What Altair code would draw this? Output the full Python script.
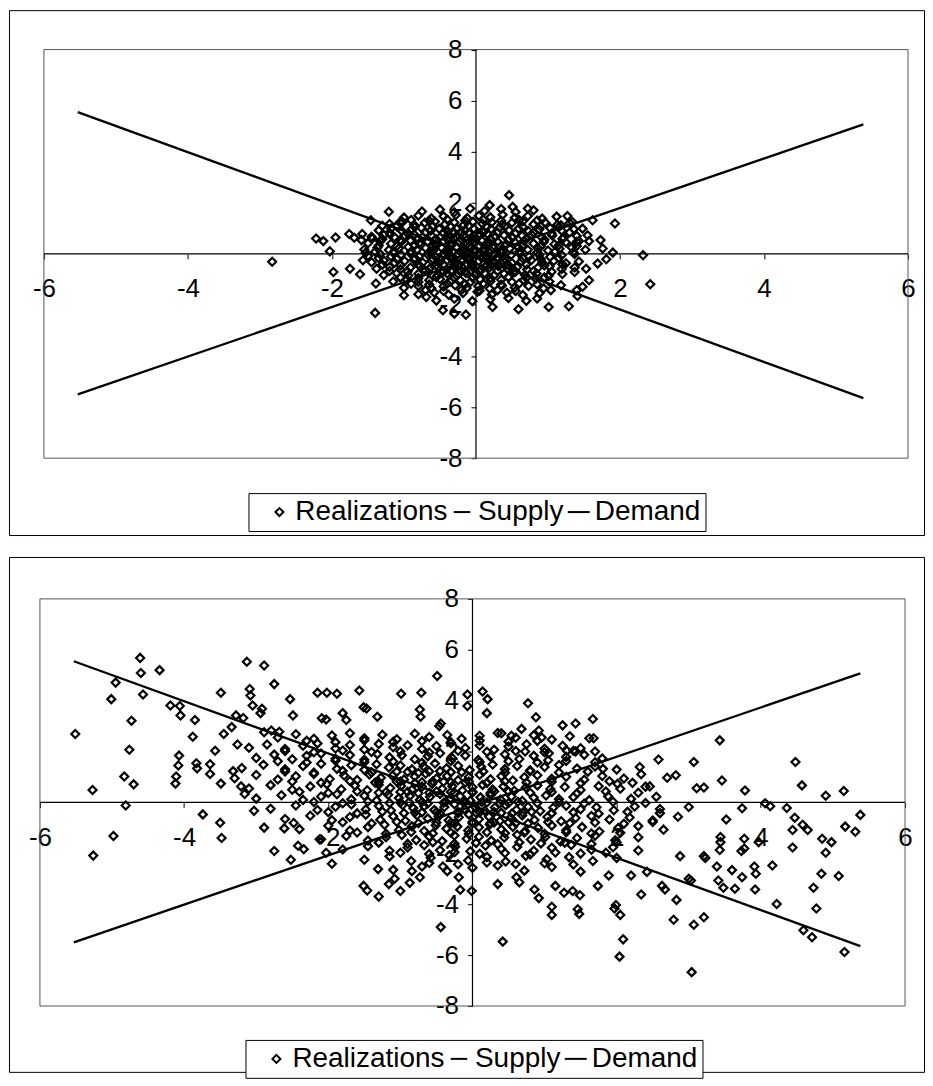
import altair as alt
import pandas as pd

# ---------------- data ----------------
series_names = ["Realizations", "Supply", "Demand"]
x_ticks = [-6, -4, -2, 2, 4, 6]
y_ticks = [-8, -6, -4, -2, 2, 4, 6, 8]
x_extent = [-6, 6]
y_extent = [-8, 8]

supply_x = [-5.53, 5.38]
supply_y = [-5.50, 5.07]
demand_x = [-5.53, 5.38]
demand_y = [5.55, -5.65]

top_core = [
    (-0.75,1.66),(-0.5,1.74),(-0.3,1.63),(-0.08,1.78),(0.12,1.68),(0.35,1.76),(0.55,1.64),(0.8,1.71),
    (-1.0,1.42),(-0.8,1.5),(-0.62,1.39),(-0.45,1.47),(-0.28,1.52),(-0.12,1.4),(0.04,1.49),(0.2,1.43),(0.37,1.53),(0.54,1.41),(0.72,1.48),(0.92,1.38),(1.12,1.46),
    (-1.2,1.17),(-1.02,1.25),(-0.86,1.14),(-0.71,1.22),(-0.57,1.27),(-0.43,1.16),(-0.3,1.23),(-0.17,1.13),(-0.04,1.26),(0.09,1.18),(0.22,1.24),(0.36,1.15),(0.5,1.22),(0.65,1.28),(0.8,1.16),(0.96,1.23),(1.13,1.14),(1.3,1.21),
    (-1.35,0.92),(-1.18,0.99),(-1.03,0.9),(-0.89,0.97),(-0.76,1.02),(-0.63,0.91),(-0.51,0.98),(-0.39,0.88),(-0.27,1.0),(-0.15,0.93),(-0.03,0.99),(0.09,0.9),(0.21,0.97),(0.33,1.03),(0.46,0.92),(0.59,0.98),(0.73,0.89),(0.88,0.96),(1.03,1.01),(1.19,0.91),(1.36,0.97),
    (-1.45,0.67),(-1.28,0.74),(-1.13,0.65),(-0.99,0.72),(-0.86,0.77),(-0.74,0.66),(-0.62,0.73),(-0.5,0.64),(-0.39,0.75),(-0.28,0.68),(-0.17,0.74),(-0.06,0.65),(0.05,0.72),(0.16,0.78),(0.27,0.67),(0.39,0.73),(0.51,0.64),(0.64,0.71),(0.77,0.76),(0.91,0.66),(1.06,0.72),(1.22,0.63),(1.4,0.7),
    (-1.5,0.42),(-1.33,0.49),(-1.18,0.4),(-1.04,0.47),(-0.91,0.52),(-0.79,0.41),(-0.67,0.48),(-0.56,0.39),(-0.45,0.5),(-0.34,0.43),(-0.23,0.49),(-0.12,0.4),(-0.02,0.47),(0.08,0.53),(0.19,0.42),(0.3,0.48),(0.42,0.39),(0.54,0.46),(0.67,0.51),(0.8,0.41),(0.94,0.47),(1.09,0.38),(1.25,0.45),(1.43,0.5),
    (-1.55,0.17),(-1.37,0.24),(-1.21,0.15),(-1.07,0.22),(-0.94,0.27),(-0.82,0.16),(-0.7,0.23),(-0.59,0.14),(-0.48,0.25),(-0.37,0.18),(-0.27,0.24),(-0.17,0.15),(-0.07,0.22),(0.03,0.28),(0.13,0.17),(0.24,0.23),(0.35,0.14),(0.47,0.21),(0.59,0.26),(0.72,0.16),(0.86,0.22),(1.0,0.13),(1.16,0.2),(1.33,0.25),(1.52,0.16),
    (-1.5,-0.08),(-1.33,-0.01),(-1.18,-0.1),(-1.04,-0.03),(-0.91,0.02),(-0.79,-0.09),(-0.67,-0.02),(-0.56,-0.11),(-0.45,0.0),(-0.35,-0.07),(-0.25,-0.01),(-0.15,-0.1),(-0.05,-0.03),(0.05,0.03),(0.15,-0.08),(0.26,-0.02),(0.37,-0.11),(0.49,-0.04),(0.61,0.01),(0.74,-0.09),(0.88,-0.03),(1.03,-0.12),(1.19,-0.05),(1.37,0.0),
    (-1.45,-0.33),(-1.28,-0.26),(-1.13,-0.35),(-0.99,-0.28),(-0.86,-0.23),(-0.74,-0.34),(-0.62,-0.27),(-0.51,-0.36),(-0.4,-0.25),(-0.29,-0.32),(-0.18,-0.26),(-0.07,-0.35),(0.04,-0.28),(0.15,-0.22),(0.26,-0.33),(0.38,-0.27),(0.5,-0.36),(0.63,-0.29),(0.77,-0.24),(0.92,-0.34),(1.08,-0.28),(1.25,-0.37),(1.43,-0.3),
    (-1.38,-0.58),(-1.2,-0.51),(-1.05,-0.6),(-0.91,-0.53),(-0.78,-0.48),(-0.65,-0.59),(-0.53,-0.52),(-0.41,-0.61),(-0.29,-0.5),(-0.17,-0.57),(-0.05,-0.51),(0.07,-0.6),(0.19,-0.53),(0.31,-0.47),(0.44,-0.58),(0.57,-0.52),(0.71,-0.61),(0.86,-0.54),(1.02,-0.49),(1.19,-0.59),(1.37,-0.53),
    (-1.28,-0.83),(-1.1,-0.76),(-0.94,-0.85),(-0.8,-0.78),(-0.66,-0.73),(-0.53,-0.84),(-0.4,-0.77),(-0.27,-0.86),(-0.14,-0.75),(-0.01,-0.82),(0.12,-0.76),(0.25,-0.85),(0.39,-0.78),(0.53,-0.72),(0.68,-0.83),(0.84,-0.77),(1.01,-0.86),(1.2,-0.79),
    (-1.15,-1.08),(-0.96,-1.01),(-0.8,-1.1),(-0.65,-1.03),(-0.5,-0.98),(-0.36,-1.09),(-0.22,-1.02),(-0.08,-1.11),(0.06,-1.0),(0.2,-1.07),(0.35,-1.01),(0.5,-1.1),(0.66,-1.03),(0.83,-0.97),(1.02,-1.08),
    (-1.0,-1.33),(-0.8,-1.26),(-0.62,-1.35),(-0.45,-1.28),(-0.29,-1.23),(-0.13,-1.34),(0.03,-1.27),(0.19,-1.36),(0.36,-1.25),(0.54,-1.32),(0.73,-1.26),(0.94,-1.35),
    (-0.8,-1.58),(-0.58,-1.51),(-0.38,-1.6),(-0.18,-1.53),(0.02,-1.48),(0.22,-1.59),(0.43,-1.52),(0.65,-1.61),(0.88,-1.54),
    (-0.55,-1.83),(-0.3,-1.76),(-0.05,-1.85),(0.2,-1.78),(0.45,-1.73),(0.7,-1.84),
    (-0.62,0.08),(-0.42,0.1),(-0.22,0.09),(-0.02,0.1),(0.18,0.08),(0.38,0.1),
    (-0.52,-0.18),(-0.32,-0.17),(-0.12,-0.19),(0.08,-0.16),(0.28,-0.18),
    (-0.55,0.33),(-0.35,0.32),(-0.15,0.34),(0.05,0.31),(0.25,0.33),
    (-0.45,-0.42),(-0.25,-0.43),(-0.05,-0.41),(0.15,-0.44),
    (-0.4,0.58),(-0.2,0.57),(0.0,0.59),(0.2,0.56),
    (-0.35,-0.67),(-0.15,-0.68),(0.05,-0.66),
    (-0.3,0.83),(-0.1,0.82),(0.1,0.84),
]

top_core_fill = [
    (-0.9,1.33),(-0.65,1.3),(-0.4,1.35),(-0.15,1.31),(0.1,1.34),(0.35,1.3),(0.6,1.33),(0.85,1.31),
    (-1.1,1.08),(-0.85,1.05),(-0.6,1.09),(-0.35,1.06),(-0.1,1.08),(0.15,1.05),(0.4,1.09),(0.65,1.06),(0.9,1.08),(1.15,1.05),
    (-1.2,0.83),(-0.95,0.8),(-0.7,0.84),(-0.45,0.81),(-0.2,0.83),(0.05,0.8),(0.3,0.84),(0.55,0.81),(0.8,0.83),(1.05,0.8),(1.3,0.84),
    (-1.3,0.58),(-1.05,0.55),(-0.8,0.59),(-0.55,0.56),(-0.3,0.58),(-0.05,0.55),(0.2,0.59),(0.45,0.56),(0.7,0.58),(0.95,0.55),(1.2,0.59),
    (-1.35,0.33),(-1.1,0.3),(-0.85,0.34),(-0.6,0.31),(-0.35,0.33),(-0.1,0.3),(0.15,0.34),(0.4,0.31),(0.65,0.33),(0.9,0.3),(1.15,0.34),(1.4,0.31),
    (-1.4,0.08),(-1.15,0.05),(-0.9,0.09),(-0.65,0.06),(-0.4,0.08),(-0.15,0.05),(0.1,0.09),(0.35,0.06),(0.6,0.08),(0.85,0.05),(1.1,0.09),(1.35,0.06),
    (-1.35,-0.17),(-1.1,-0.2),(-0.85,-0.16),(-0.6,-0.19),(-0.35,-0.17),(-0.1,-0.2),(0.15,-0.16),(0.4,-0.19),(0.65,-0.17),(0.9,-0.2),(1.15,-0.16),
    (-1.3,-0.42),(-1.05,-0.45),(-0.8,-0.41),(-0.55,-0.44),(-0.3,-0.42),(-0.05,-0.45),(0.2,-0.41),(0.45,-0.44),(0.7,-0.42),(0.95,-0.45),(1.2,-0.41),
    (-1.2,-0.67),(-0.95,-0.7),(-0.7,-0.66),(-0.45,-0.69),(-0.2,-0.67),(0.05,-0.7),(0.3,-0.66),(0.55,-0.69),(0.8,-0.67),(1.05,-0.7),
    (-1.05,-0.92),(-0.8,-0.95),(-0.55,-0.91),(-0.3,-0.94),(-0.05,-0.92),(0.2,-0.95),(0.45,-0.91),(0.7,-0.94),(0.95,-0.92),
    (-0.9,-1.17),(-0.65,-1.2),(-0.4,-1.16),(-0.15,-1.19),(0.1,-1.17),(0.35,-1.2),(0.6,-1.16),(0.85,-1.19),
    (-0.7,-1.42),(-0.45,-1.45),(-0.2,-1.41),(0.05,-1.44),(0.3,-1.42),(0.55,-1.45),
]

top_outer = [
    (-2.22,0.60),(-2.12,0.50),(-1.95,0.64),(-2.03,0.10),(-1.98,-0.71),(-1.75,-0.58),(-1.61,-0.80),
    (-1.76,0.78),(-1.69,0.63),(-1.58,0.78),(-1.59,0.54),(-1.44,0.60),(-1.46,1.32),(-1.21,1.65),
    (-1.30,1.10),(-1.06,1.23),(-1.19,0.76),(-1.32,0.54),(-1.40,-2.31),(-1.57,-0.25),(-1.53,0.05),
    (-1.39,-1.16),(-1.00,-1.62),(-0.69,-1.69),(-0.46,-2.21),(-0.30,-2.34),(-0.14,-2.38),(-2.83,-0.31),
    (0.46,2.30),(0.19,1.91),(0.72,1.78),(0.51,1.84),(1.27,1.48),(1.34,1.25),(1.62,1.32),(1.93,1.19),
    (1.18,1.12),(1.48,0.99),(1.55,0.73),(1.40,0.47),(1.57,0.50),(1.73,0.54),(1.76,0.21),(1.90,0.05),
    (1.81,-0.21),(1.69,-0.38),(1.53,-0.58),(1.57,-1.03),(1.48,-1.29),(1.40,-1.42),(1.41,-1.65),
    (2.32,-0.05),(2.42,-1.19),(1.29,-2.05),(1.01,-2.08),(0.59,-2.17),(0.23,-2.08),(0.85,-1.75),
    (1.04,-1.42),(1.18,-1.23),(1.37,-0.71),
]

bottom_core = [
    (-2.7,2.55),(-2.45,2.68),(-2.2,2.5),(-1.95,2.63),(-1.7,2.72),(-1.5,2.52),(-1.25,2.66),(-1.05,2.48),(-0.8,2.7),(-0.6,2.57),(-0.35,2.65),(-0.15,2.5),(0.1,2.62),(0.35,2.73),(0.6,2.54),(0.85,2.64),(1.1,2.47),(1.35,2.6),
    (-3.1,2.15),(-2.85,2.28),(-2.6,2.1),(-2.35,2.23),(-2.15,2.32),(-1.9,2.12),(-1.7,2.26),(-1.5,2.08),(-1.3,2.3),(-1.1,2.17),(-0.9,2.25),(-0.7,2.1),(-0.5,2.22),(-0.3,2.33),(-0.1,2.14),(0.1,2.24),(0.3,2.07),(0.5,2.2),(0.75,2.29),(1.0,2.11),(1.25,2.23),(1.5,2.13),
    (-3.0,1.75),(-2.75,1.88),(-2.5,1.7),(-2.3,1.83),(-2.1,1.92),(-1.9,1.72),(-1.7,1.86),(-1.5,1.68),(-1.32,1.9),(-1.15,1.77),(-0.98,1.85),(-0.8,1.7),(-0.62,1.82),(-0.45,1.93),(-0.28,1.74),(-0.1,1.84),(0.08,1.67),(0.25,1.8),(0.45,1.89),(0.65,1.71),(0.85,1.83),(1.05,1.66),(1.3,1.79),(1.55,1.87),(1.8,1.73),
    (-3.2,1.35),(-2.9,1.48),(-2.6,1.3),(-2.35,1.43),(-2.1,1.52),(-1.88,1.32),(-1.68,1.46),(-1.5,1.28),(-1.33,1.5),(-1.16,1.37),(-1.0,1.45),(-0.84,1.3),(-0.68,1.42),(-0.52,1.53),(-0.36,1.34),(-0.2,1.44),(-0.04,1.27),(0.12,1.4),(0.28,1.49),(0.45,1.31),(0.62,1.43),(0.8,1.26),(1.0,1.39),(1.2,1.47),(1.45,1.33),(1.7,1.41),(2.0,1.29),
    (-3.3,0.95),(-3.0,1.08),(-2.7,0.9),(-2.45,1.03),(-2.2,1.12),(-1.98,0.92),(-1.78,1.06),(-1.6,0.88),(-1.43,1.1),(-1.27,0.97),(-1.11,1.05),(-0.95,0.9),(-0.8,1.02),(-0.65,1.13),(-0.5,0.94),(-0.35,1.04),(-0.2,0.87),(-0.05,1.0),(0.1,1.09),(0.25,0.91),(0.4,1.03),(0.56,0.86),(0.72,0.99),(0.9,1.07),(1.1,0.93),(1.3,1.01),(1.55,0.89),(1.8,1.04),(2.1,0.94),
    (-3.1,0.55),(-2.8,0.68),(-2.5,0.5),(-2.25,0.63),(-2.02,0.72),(-1.82,0.52),(-1.63,0.66),(-1.46,0.48),(-1.3,0.7),(-1.14,0.57),(-0.99,0.65),(-0.84,0.5),(-0.7,0.62),(-0.56,0.73),(-0.42,0.54),(-0.28,0.64),(-0.14,0.47),(0.0,0.6),(0.14,0.69),(0.28,0.51),(0.43,0.63),(0.58,0.46),(0.74,0.59),(0.9,0.67),(1.08,0.53),(1.28,0.61),(1.5,0.49),(1.75,0.64),(2.05,0.54),(2.4,0.62),
    (-3.0,0.15),(-2.65,0.28),(-2.35,0.1),(-2.1,0.23),(-1.88,0.32),(-1.68,0.12),(-1.5,0.26),(-1.33,0.08),(-1.17,0.3),(-1.02,0.17),(-0.87,0.25),(-0.73,0.1),(-0.59,0.22),(-0.45,0.33),(-0.31,0.14),(-0.17,0.24),(-0.03,0.07),(0.11,0.2),(0.25,0.29),(0.39,0.11),(0.54,0.23),(0.69,0.06),(0.85,0.19),(1.02,0.27),(1.2,0.13),(1.4,0.21),(1.62,0.09),(1.88,0.24),(2.2,0.14),(2.55,0.22),
    (-2.8,-0.25),(-2.45,-0.12),(-2.15,-0.3),(-1.9,-0.17),(-1.68,-0.08),(-1.48,-0.28),(-1.3,-0.14),(-1.13,-0.32),(-0.97,-0.1),(-0.82,-0.23),(-0.67,-0.15),(-0.53,-0.3),(-0.39,-0.18),(-0.25,-0.07),(-0.11,-0.26),(0.03,-0.16),(0.17,-0.33),(0.31,-0.2),(0.46,-0.11),(0.61,-0.29),(0.77,-0.17),(0.94,-0.34),(1.12,-0.21),(1.3,-0.13),(1.5,-0.27),(1.72,-0.19),(1.96,-0.31),(2.25,-0.16),(2.6,-0.26),(3.0,-0.18),
    (-2.6,-0.65),(-2.25,-0.52),(-1.95,-0.7),(-1.7,-0.57),(-1.48,-0.48),(-1.28,-0.68),(-1.1,-0.54),(-0.93,-0.72),(-0.77,-0.5),(-0.62,-0.63),(-0.47,-0.55),(-0.33,-0.7),(-0.19,-0.58),(-0.05,-0.47),(0.09,-0.66),(0.23,-0.56),(0.38,-0.73),(0.53,-0.6),(0.69,-0.51),(0.86,-0.69),(1.04,-0.57),(1.23,-0.74),(1.43,-0.61),(1.65,-0.53),(1.9,-0.67),(2.18,-0.59),(2.5,-0.71),(2.85,-0.56),
    (-2.4,-1.05),(-2.0,-0.92),(-1.7,-1.1),(-1.45,-0.97),(-1.22,-0.88),(-1.02,-1.08),(-0.84,-0.94),(-0.67,-1.12),(-0.51,-0.9),(-0.36,-1.03),(-0.21,-0.95),(-0.06,-1.1),(0.09,-0.98),(0.24,-0.87),(0.4,-1.06),(0.56,-0.96),(0.73,-1.13),(0.91,-1.0),(1.1,-0.91),(1.3,-1.09),(1.52,-0.97),(1.76,-1.14),(2.02,-1.01),(2.3,-0.93),(2.65,-1.07),
    (-2.1,-1.45),(-1.75,-1.32),(-1.45,-1.5),(-1.2,-1.37),(-0.98,-1.28),(-0.78,-1.48),(-0.6,-1.34),(-0.42,-1.52),(-0.25,-1.3),(-0.08,-1.43),(0.09,-1.35),(0.26,-1.5),(0.44,-1.38),(0.62,-1.27),(0.81,-1.46),(1.01,-1.36),(1.22,-1.53),(1.45,-1.4),(1.7,-1.31),(1.98,-1.49),(2.3,-1.37),
    (-1.8,-1.85),(-1.45,-1.72),(-1.15,-1.9),(-0.9,-1.77),(-0.67,-1.68),(-0.45,-1.88),(-0.24,-1.74),(-0.03,-1.92),(0.18,-1.7),(0.4,-1.83),(0.62,-1.75),(0.85,-1.9),(1.1,-1.78),(1.37,-1.67),(1.65,-1.86),(1.95,-1.76),(2.3,-1.89),
    (-1.5,-2.25),(-1.15,-2.12),(-0.85,-2.3),(-0.58,-2.17),(-0.32,-2.08),(-0.06,-2.28),(0.2,-2.14),(0.46,-2.32),(0.74,-2.1),(1.03,-2.23),(1.34,-2.15),(1.67,-2.3),(2.0,-2.18),
    (-1.1,-2.65),(-0.7,-2.52),(-0.35,-2.7),(0.0,-2.57),(0.35,-2.48),(0.72,-2.68),(1.1,-2.54),(1.5,-2.72),
    (-1.2,0.4),(-0.9,0.42),(-0.6,0.38),(-0.3,0.41),(0.0,0.39),(0.3,0.43),
    (-1.0,0.0),(-0.7,0.02),(-0.4,-0.01),(-0.1,0.03),(0.2,0.0),(0.5,-0.02),
    (-0.8,-0.4),(-0.5,-0.38),(-0.2,-0.42),(0.1,-0.39),(0.4,-0.41),(0.7,-0.4),
    (-1.3,0.8),(-1.0,0.82),(-0.7,0.79),(-0.4,0.81),(-0.1,0.78),
    (-0.3,-0.8),(0.0,-0.82),(0.3,-0.79),(0.6,-0.81),
    (-0.9,1.2),(-0.6,1.22),(-0.3,1.19),
]

bottom_core_fill = [
    (-2.3,2.42),(-1.9,2.37),(-1.5,2.44),(-1.1,2.38),(-0.7,2.41),(-0.3,2.36),(0.1,2.43),(0.5,2.39),(0.9,2.42),
    (-2.6,2.02),(-2.2,1.97),(-1.8,2.04),(-1.4,1.98),(-1.0,2.01),(-0.6,1.96),(-0.2,2.03),(0.2,1.99),(0.6,2.02),(1.0,1.97),(1.4,2.03),
    (-2.7,1.62),(-2.3,1.57),(-1.9,1.64),(-1.5,1.58),(-1.1,1.61),(-0.7,1.56),(-0.3,1.63),(0.1,1.59),(0.5,1.62),(0.9,1.57),(1.3,1.63),(1.7,1.58),
    (-2.6,1.22),(-2.2,1.17),(-1.8,1.24),(-1.4,1.18),(-1.05,1.21),(-0.75,1.16),(-0.45,1.23),(-0.15,1.19),(0.15,1.22),(0.45,1.17),(0.8,1.23),(1.2,1.18),(1.6,1.21),
    (-2.5,0.82),(-2.1,0.77),(-1.7,0.84),(-1.35,0.78),(-1.05,0.81),(-0.8,0.76),(-0.55,0.83),(-0.3,0.79),(-0.05,0.82),(0.2,0.77),(0.45,0.83),(0.75,0.78),(1.1,0.81),(1.5,0.76),(1.9,0.83),
    (-2.4,0.42),(-2.0,0.37),(-1.6,0.44),(-1.3,0.38),(-1.0,0.41),(-0.75,0.36),(-0.5,0.43),(-0.25,0.39),(0.0,0.42),(0.25,0.37),(0.5,0.43),(0.8,0.38),(1.1,0.41),(1.45,0.36),(1.85,0.43),(2.3,0.38),
    (-2.2,0.02),(-1.8,-0.03),(-1.45,0.04),(-1.15,-0.02),(-0.88,0.01),(-0.62,-0.04),(-0.37,0.03),(-0.12,-0.01),(0.13,0.02),(0.38,-0.03),(0.63,0.03),(0.9,-0.02),(1.2,0.01),(1.55,-0.04),(1.95,0.03),(2.4,-0.02),
    (-2.0,-0.38),(-1.6,-0.43),(-1.25,-0.36),(-0.95,-0.42),(-0.7,-0.39),(-0.45,-0.44),(-0.2,-0.37),(0.05,-0.41),(0.3,-0.38),(0.55,-0.43),(0.82,-0.37),(1.1,-0.42),(1.4,-0.39),(1.75,-0.44),(2.15,-0.37),(2.6,-0.42),
    (-1.8,-0.78),(-1.4,-0.83),(-1.05,-0.76),(-0.75,-0.82),(-0.5,-0.79),(-0.25,-0.84),(0.0,-0.77),(0.25,-0.81),(0.5,-0.78),(0.77,-0.83),(1.05,-0.77),(1.35,-0.82),(1.7,-0.79),(2.1,-0.84),(2.5,-0.77),
    (-1.6,-1.18),(-1.2,-1.23),(-0.85,-1.16),(-0.55,-1.22),(-0.3,-1.19),(-0.05,-1.24),(0.2,-1.17),(0.45,-1.21),(0.72,-1.18),(1.0,-1.23),(1.3,-1.17),(1.65,-1.22),(2.05,-1.19),
    (-1.3,-1.58),(-0.9,-1.63),(-0.55,-1.56),(-0.25,-1.62),(0.05,-1.59),(0.35,-1.64),(0.65,-1.57),(0.95,-1.61),(1.28,-1.58),(1.65,-1.63),(2.0,-1.57),
    (-1.0,-1.98),(-0.6,-2.03),(-0.25,-1.96),(0.1,-2.02),(0.45,-1.99),(0.8,-2.04),(1.15,-1.97),(1.5,-2.01),(1.85,-1.98),
    (-0.6,-2.38),(-0.2,-2.43),(0.2,-2.36),(0.6,-2.42),(1.0,-2.39),(1.4,-2.44),
]

bottom_outer = [
    (-5.51,2.69),(-5.27,0.49),(-5.26,-2.09),(-4.98,-1.32),(-5.01,4.06),(-4.95,4.71),(-4.81,-0.12),
    (-4.83,1.02),(-4.76,2.07),(-4.73,3.21),(-4.70,0.71),(-4.61,5.68),(-4.60,5.09),(-4.57,4.24),
    (-4.34,5.20),(-4.19,3.81),(-4.06,3.79),(-4.05,3.42),(-4.07,1.84),(-4.08,1.45),(-4.11,1.02),
    (-4.12,0.74),(-3.88,2.58),(-3.85,3.24),(-3.83,1.54),(-3.82,1.34),(-3.74,-0.47),(-3.64,1.50),
    (-3.64,1.12),(-3.57,2.03),(-3.50,-0.80),(-3.48,-1.40),(-3.49,4.31),(-3.45,2.69),(-3.49,0.74),
    (-3.32,1.23),(-3.34,2.96),(-3.28,3.42),(-3.26,2.28),(-3.18,3.32),(-3.13,5.53),(-3.09,4.46),
    (-3.08,4.20),(-3.05,3.81),(-2.94,3.51),(-2.92,3.68),(-2.89,5.38),(-2.75,4.65),(-2.53,4.06),
    (-2.49,3.42),(-2.89,2.76),(-2.79,2.83),(-2.68,2.78),(-3.21,0.63),(-3.16,0.33),(-3.03,-0.33),
    (-2.89,-0.99),(-2.75,-1.91),(-2.61,-1.02),(-2.52,-2.25),(-2.48,-0.81),(-2.42,-1.70),(-2.34,-1.84),
    (-2.12,-1.45),(-2.03,-1.98),(-1.95,-2.41),(-2.15,4.31),(-2.02,4.31),(-1.88,4.27),(-2.09,3.31),
    (-2.03,3.26),(-1.57,4.40),(-1.51,3.74),(-1.47,3.69),(-1.32,3.37),(-1.80,3.51),(-1.75,3.24),
    (-0.99,4.27),(-0.71,4.31),(-0.73,3.65),(-0.72,3.37),(-0.49,4.97),(-0.46,3.00),(-0.44,3.10),
    (-1.51,-3.28),(-1.46,-3.46),(-1.30,-3.70),(-1.31,-2.62),(-1.16,-3.21),(-1.08,-3.00),(-1.00,-3.48),
    (-0.87,-3.16),(-0.84,-2.70),(-0.73,-2.94),(-0.44,-4.90),(-0.41,-2.52),(-0.19,-2.94),(-0.17,-3.43),
    (-0.01,-3.48),(-0.07,4.24),(0.14,4.36),(0.21,4.06),(0.20,3.51),(-0.07,3.79),(0.42,-5.47),
    (0.35,-3.21),(0.40,2.72),(0.54,2.62),(0.77,3.90),(0.88,3.35),(0.92,2.83),(0.68,2.89),(0.73,2.00),
    (0.96,2.55),(1.25,3.03),(1.43,3.10),(1.67,3.28),(1.62,2.52),(1.68,2.52),(1.70,2.00),(1.31,2.03),
    (1.43,2.00),(1.06,1.93),(1.81,1.32),(2.32,1.39),(2.34,1.11),(2.58,1.69),(2.70,0.97),(2.82,1.07),
    (2.46,0.63),(2.22,0.77),(2.01,0.73),(3.07,1.59),(3.11,0.56),(3.21,0.59),(3.43,2.44),(3.46,0.86),
    (3.78,0.47),(3.74,-0.23),(4.06,-0.03),(4.13,-0.15),(4.36,-0.22),(4.48,1.59),(4.57,0.67),(4.90,0.26),
    (5.15,0.45),(5.38,-0.49),(5.17,-0.95),(5.31,-1.15),(4.47,-0.60),(4.44,-1.08),(4.65,-1.08),(4.58,-0.88),
    (4.85,-1.43),(4.98,-1.56),(4.90,-1.98),(4.44,-1.77),(3.97,-1.56),(3.77,-1.43),(3.77,-1.81),(3.73,-1.91),
    (3.52,-0.67),(3.44,-1.36),(3.44,-1.56),(3.43,-1.87),(3.21,-2.11),(3.23,-2.18),(3.39,-2.52),(3.41,-3.07),
    (3.48,-3.35),(3.60,-2.66),(3.64,-3.39),(3.74,-2.94),(3.91,-2.52),(3.93,-2.80),(3.92,-3.42),(4.16,-2.48),
    (4.22,-3.99),(4.73,-3.35),(4.77,-4.17),(4.84,-2.80),(5.08,-2.89),(4.59,-5.02),(4.71,-5.30),(5.16,-5.88),
    (3.04,-6.67),(3.07,-4.81),(3.21,-4.51),(2.79,-4.61),(2.83,-3.83),(2.09,-5.38),(2.04,-6.06),(2.05,-4.42),
    (1.99,-4.03),(1.97,-4.17),(2.34,-3.62),(2.63,-3.28),(2.67,-3.42),(2.88,-2.11),(3.00,-3.00),(3.03,-3.07),
    (1.46,-4.20),(1.48,-4.38),(1.10,-4.42),(1.10,-4.10),(1.27,-3.55),(1.49,-3.65),(0.92,-3.76),(0.86,-3.42),
    (0.65,-3.14),(0.61,-2.94),(1.15,-3.28),(1.39,-3.48),(1.74,-3.28),(1.89,-2.87),(2.20,-2.87),(2.42,-2.73),
]

FONT = "Liberation Sans"


def panel(points, W, H, xdom, ydom, leg_x, leg_y):
    pts = pd.DataFrame(points, columns=["x", "y"])
    pts["series"] = "Realizations"
    lines = pd.DataFrame({
        "x": supply_x + demand_x,
        "y": supply_y + demand_y,
        "series": ["Supply"] * len(supply_x) + ["Demand"] * len(demand_x),
    })
    frame = pd.DataFrame({"x": [x_extent[0]], "x2": [x_extent[1]],
                          "y": [y_extent[0]], "y2": [y_extent[1]]})
    axes_df = pd.DataFrame({"x": [x_extent[0], 0], "x2": [x_extent[1], 0],
                            "y": [0, y_extent[0]], "y2": [0, y_extent[1]]})

    xs = alt.Scale(domain=xdom, nice=False, zero=False)
    ys = alt.Scale(domain=ydom, nice=False, zero=False)

    x0_px = (0 - xdom[0]) / (xdom[1] - xdom[0]) * W
    y0_px = (ydom[1] - 0) / (ydom[1] - ydom[0]) * H

    x_axis = alt.Axis(values=x_ticks, orient="bottom", offset=-(H - y0_px), domain=False,
                      grid=False, ticks=True, tickSize=5, tickColor="black", tickWidth=1,
                      labelFont=FONT, labelFontSize=26, labelColor="black", labelPadding=17,
                      labelFlush=False, labelOverlap=False, title=None,
                      labelExpr="toString(datum.value)")
    y_axis = alt.Axis(values=y_ticks, orient="left", offset=-x0_px, domain=False,
                      grid=False, ticks=True, tickSize=5, tickColor="black", tickWidth=1,
                      labelFont=FONT, labelFontSize=26, labelColor="black", labelPadding=9,
                      labelFlush=False, labelOverlap=False, title=None,
                      labelExpr="toString(datum.value)")

    legend = alt.Legend(orient="none", legendX=leg_x, legendY=leg_y, direction="horizontal",
                        title=" ", titleOrient="left", titlePadding=12,
                        titleFont=FONT, titleFontSize=28,
                        labelFont=FONT, labelFontSize=28, labelColor="black",
                        strokeColor="black", fillColor="white", padding=5,
                        symbolStrokeColor="black", symbolStrokeWidth=2,
                        symbolFillColor="transparent",
                        columnPadding=0, labelOffset=2, symbolOffset=0)

    X = alt.X("x:Q", scale=xs, axis=x_axis)
    Y = alt.Y("y:Q", scale=ys, axis=y_axis)

    border = alt.Chart(frame).mark_rect(fillOpacity=0, stroke="#555555", strokeWidth=1).encode(
        x=X, x2="x2", y=Y, y2="y2")
    axis_lines = alt.Chart(axes_df).mark_rule(color="black", strokeWidth=1.2).encode(
        x=X, x2="x2", y=Y, y2="y2")
    scatter = alt.Chart(pts).mark_point(filled=False, color="black", strokeWidth=2.2, opacity=1).encode(
        x=X, y=Y,
        shape=alt.Shape("series:N", scale=alt.Scale(domain=series_names,
                                                    range=["diamond", "stroke", "stroke"]),
                        legend=legend),
        size=alt.Size("series:N", scale=alt.Scale(domain=series_names, range=[64, 484, 484]),
                      legend=legend),
    )
    curves = alt.Chart(lines).mark_line(color="black", strokeWidth=2.3).encode(
        x=X, y=Y, detail="series:N",
    )
    return alt.layer(border, axis_lines, scatter, curves).properties(width=W, height=H)


top = panel(top_core + top_core_fill + top_outer, 917, 526,
            [-6.485, 6.222], [-11.009, 9.544], 240, 484)
bottom = panel(bottom_core + bottom_core_fill + bottom_outer, 917, 516,
               [-6.429, 6.263], [-10.588, 9.647], 237, 484)

chart = alt.vconcat(top, bottom, spacing=20).resolve_scale(
    shape="independent", size="independent"
).resolve_legend(shape="independent", size="independent").properties(
    padding={"left": 0, "right": 0, "top": 0, "bottom": 0}
).configure(font=FONT).configure_view(stroke="black", strokeWidth=1)

chart.save("out.html", embed_options={"renderer": "svg", "actions": False})
